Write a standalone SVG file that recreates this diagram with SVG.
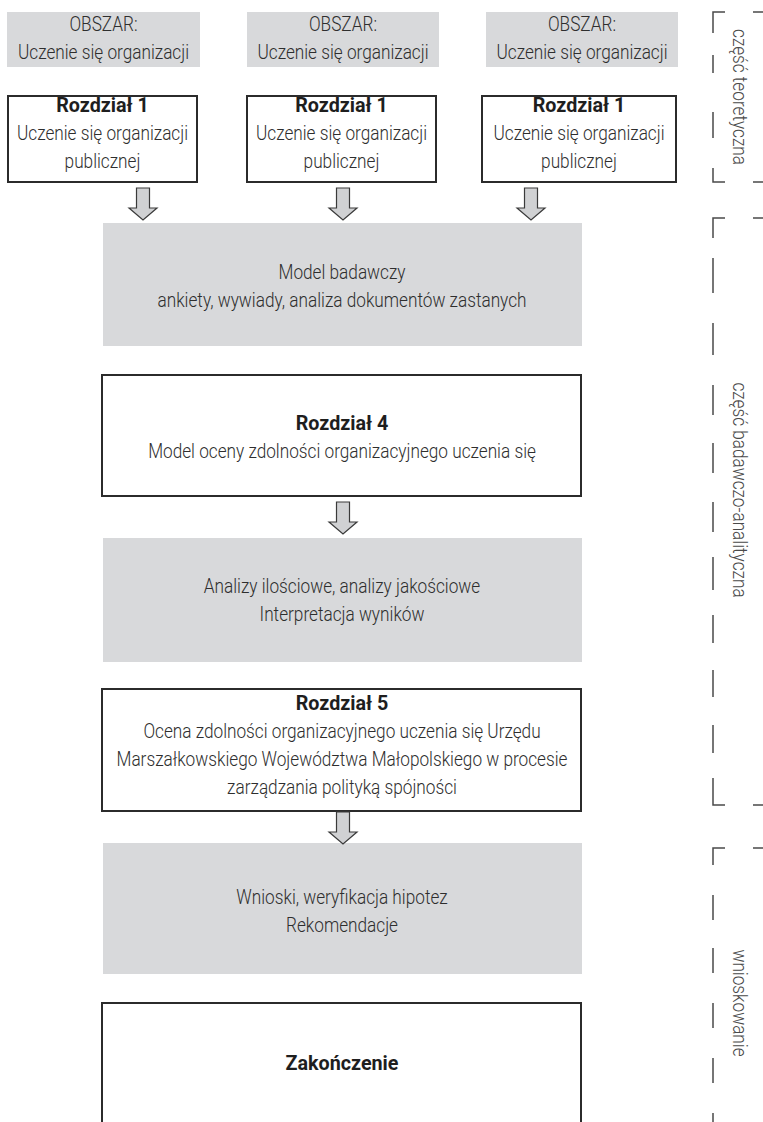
<svg xmlns="http://www.w3.org/2000/svg" width="763" height="1122" viewBox="0 0 763 1122">
  <style>
    .grey { fill: #d8d9db; stroke: none; }
    .box { fill: #ffffff; stroke: #2b2b2b; stroke-width: 2; }
    .t { font-family: Roboto, "Liberation Sans", sans-serif; font-weight: 300; font-size: 21px; fill: #2e2e2e; text-anchor: middle; }
    .b { font-family: Roboto, "Liberation Sans", sans-serif; font-weight: 700; font-size: 21px; fill: #1e1e1e; text-anchor: middle; }
    .side { font-family: Roboto, "Liberation Sans", sans-serif; font-weight: 300; font-size: 21px; fill: #4a4a4a; text-anchor: middle; }
    .arrow { fill: #d0d1d3; stroke: #3a3a3a; stroke-width: 1.2; stroke-linejoin: miter; }
    .brk { fill: none; stroke: #4a4a4a; stroke-width: 1.5; }
  </style>
  <defs>
    <!-- hollow block arrow pointing down, origin at top centre of the shaft -->
    <path id="down" d="M -6.5 0 H 6.5 V 20 H 14 L 0 32 L -14 20 H -6.5 Z"/>
  </defs>

  <!-- top row: areas (text is set narrow with a horizontal scale) -->
  <g id="area1">
    <rect class="grey" x="7" y="12" width="193" height="55"/>
    <text class="t" transform="translate(103.5 31) scale(.82 1)">OBSZAR:</text>
    <text class="t" transform="translate(103.5 59) scale(.82 1)">Uczenie się organizacji</text>
  </g>
  <g id="area2">
    <rect class="grey" x="247" y="12" width="192" height="55"/>
    <text class="t" transform="translate(343 31) scale(.82 1)">OBSZAR:</text>
    <text class="t" transform="translate(343 59) scale(.82 1)">Uczenie się organizacji</text>
  </g>
  <g id="area3">
    <rect class="grey" x="486" y="12" width="192" height="55"/>
    <text class="t" transform="translate(582 31) scale(.82 1)">OBSZAR:</text>
    <text class="t" transform="translate(582 59) scale(.82 1)">Uczenie się organizacji</text>
  </g>

  <!-- chapter 1 boxes -->
  <g id="ch1a">
    <rect class="box" x="8" y="96" width="189" height="86"/>
    <text class="b" transform="translate(102.5 112) scale(.94 1)">Rozdział 1</text>
    <text class="t" transform="translate(102.5 140) scale(.82 1)">Uczenie się organizacji</text>
    <text class="t" transform="translate(102.5 168) scale(.82 1)">publicznej</text>
  </g>
  <g id="ch1b">
    <rect class="box" x="247" y="96" width="189" height="86"/>
    <text class="b" transform="translate(341.5 112) scale(.94 1)">Rozdział 1</text>
    <text class="t" transform="translate(341.5 140) scale(.82 1)">Uczenie się organizacji</text>
    <text class="t" transform="translate(341.5 168) scale(.82 1)">publicznej</text>
  </g>
  <g id="ch1c">
    <rect class="box" x="482" y="96" width="194" height="86"/>
    <text class="b" transform="translate(579 112) scale(.94 1)">Rozdział 1</text>
    <text class="t" transform="translate(579 140) scale(.82 1)">Uczenie się organizacji</text>
    <text class="t" transform="translate(579 168) scale(.82 1)">publicznej</text>
  </g>

  <!-- research model -->
  <g id="model">
    <rect class="grey" x="103" y="223" width="479" height="123"/>
    <text class="t" transform="translate(342 279) scale(.82 1)">Model badawczy</text>
    <text class="t" transform="translate(342 307) scale(.82 1)">ankiety, wywiady, analiza dokumentów zastanych</text>
  </g>

  <g id="ch4">
    <rect class="box" x="102" y="375" width="479" height="121"/>
    <text class="b" transform="translate(342 430) scale(.94 1)">Rozdział 4</text>
    <text class="t" transform="translate(342 458) scale(.82 1)">Model oceny zdolności organizacyjnego uczenia się</text>
  </g>

  <g id="analysis">
    <rect class="grey" x="103" y="538" width="479" height="124"/>
    <text class="t" transform="translate(342 593) scale(.82 1)">Analizy ilościowe, analizy jakościowe</text>
    <text class="t" transform="translate(342 621) scale(.82 1)">Interpretacja wyników</text>
  </g>

  <g id="ch5">
    <rect class="box" x="102" y="689" width="479" height="122"/>
    <text class="b" transform="translate(342 710) scale(.94 1)">Rozdział 5</text>
    <text class="t" transform="translate(342 738) scale(.82 1)">Ocena zdolności organizacyjnego uczenia się Urzędu</text>
    <text class="t" transform="translate(342 766) scale(.82 1)">Marszałkowskiego Województwa Małopolskiego w procesie</text>
    <text class="t" transform="translate(342 794) scale(.82 1)">zarządzania polityką spójności</text>
  </g>

  <g id="conclusions">
    <rect class="grey" x="103" y="843" width="479" height="131"/>
    <text class="t" transform="translate(342 904) scale(.82 1)">Wnioski, weryfikacja hipotez</text>
    <text class="t" transform="translate(342 932) scale(.82 1)">Rekomendacje</text>
  </g>

  <g id="ending">
    <rect class="box" x="102" y="1003" width="479" height="140"/>
    <text class="b" transform="translate(342 1070) scale(.94 1)">Zakończenie</text>
  </g>

  <!-- flow arrows -->
  <g id="connectors">
    <use href="#down" class="arrow" x="143" y="188"/>
    <use href="#down" class="arrow" x="343" y="188"/>
    <use href="#down" class="arrow" x="531" y="188"/>
    <use href="#down" class="arrow" x="343" y="502"/>
    <use href="#down" class="arrow" x="343" y="812"/>
  </g>

  <!-- section brackets on the right margin -->
  <g id="section-theory">
    <path class="brk" d="M725 12 H713 V33 M713 55 V73 M713 112 V138 M713 168 V182 H725 M753 12 H763 M753 182 H763"/>
    <text class="side" transform="translate(733 97) rotate(90) scale(.82 1)">część teoretyczna</text>
  </g>
  <g id="section-research">
    <path class="brk" d="M725 218 H713 V238 M713 258 V293 M713 323 V355 M713 385 V415 M713 443 V473 M713 502 V532 M713 557 V590 M713 615 V643 M713 670 V697 M713 725 V753 M713 778 V805 H725 M753 218 H763 M753 805 H763"/>
    <text class="side" transform="translate(733 490) rotate(90) scale(.82 1)">część badawczo-analityczna</text>
  </g>
  <g id="section-conclusions">
    <path class="brk" d="M725 848 H713 V865 M713 895 V920 M713 948 V973 M713 1003 V1028 M713 1058 V1083 M713 1113 V1122 M753 848 H763"/>
    <text class="side" transform="translate(733 1003) rotate(90) scale(.82 1)">wnioskowanie</text>
  </g>
</svg>
